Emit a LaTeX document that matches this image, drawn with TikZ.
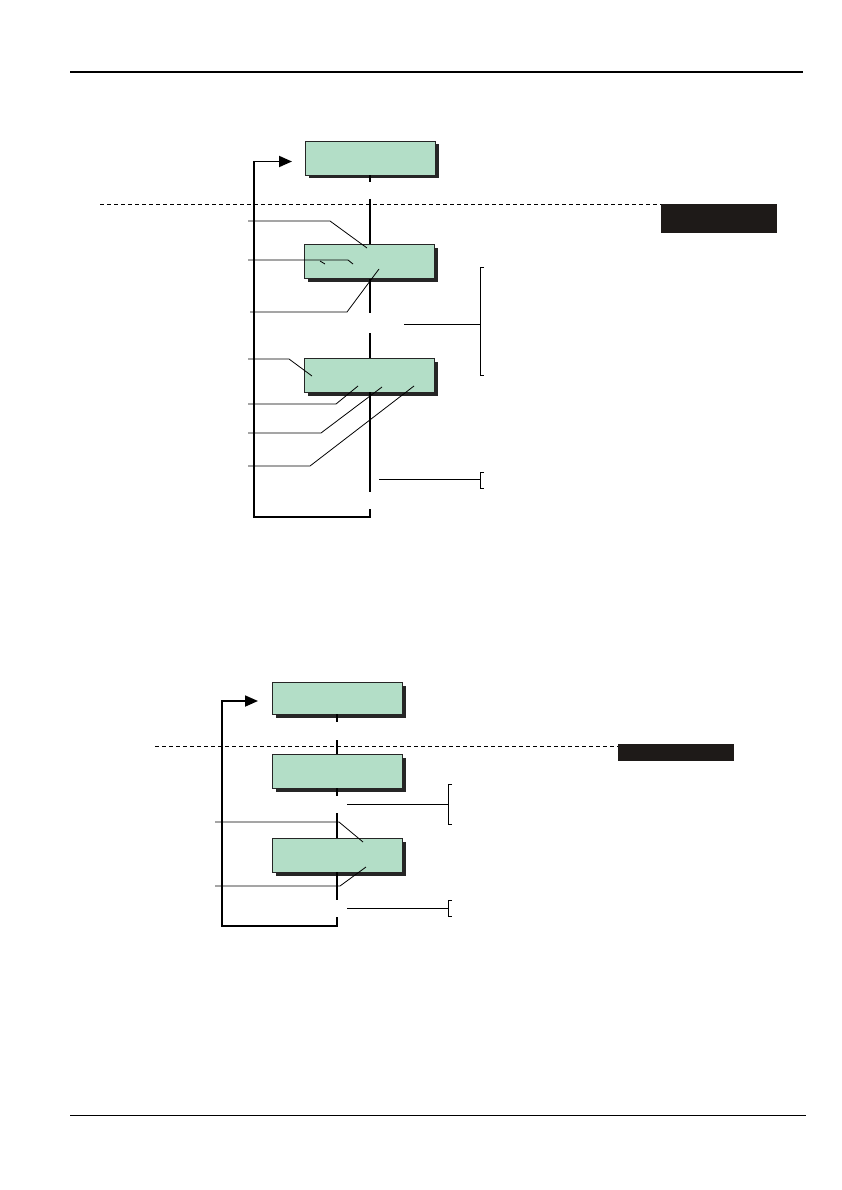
\documentclass[tikz,border=0pt]{standalone}
\usepackage{tikz}
\usetikzlibrary{ positioning, arrows.meta, shadows }
\usepackage{xcolor}
\definecolor{boxfill}{HTML}{B3DEC7}
\definecolor{tagfill}{HTML}{1E1A18}

\begin{document}
\begin{tikzpicture}[
  x=1pt, y=-1pt,
  stage/.style={draw=black!85, line width=0.9pt, fill=boxfill,
                minimum width=130pt, minimum height=34pt, inner sep=0pt,
                drop shadow={shadow xshift=3.5pt, shadow yshift=-3.5pt,
                             fill=black!85, opacity=1}},
  tag/.style={fill=tagfill, inner sep=0pt, anchor=north west},
  flow/.style={line width=1.8pt},
  lead/.style={line width=0.8pt},
  back/.style={line width=1.8pt, -{Triangle[length=13pt, width=11pt]}},
  cut/.style={line width=0.7pt, dash pattern=on 4pt off 3pt},
]
  \useasboundingbox (0,0) rectangle (842,1190);

  % page rules
  \draw[line width=2.4pt] (70,72) -- (803,72);
  \draw[line width=1pt] (70,1115) -- (806,1115);

  % ---- upper chart
  \node[stage] (top1) at (370,158) {};
  \node[stage] (mid1) at (369,261.5) {};
  \node[stage] (low1) at (369,375) {};
  \node[tag, minimum width=116pt, minimum height=29pt] (tag1) at (661,204) {};

  \draw[cut] (100,204) -- (tag1.north west);

  \coordinate (t1) at (370,182);
  \coordinate (t2) at (370,199);
  \coordinate (t3) at (370,313);
  \coordinate (t4) at (370,333);
  \coordinate (t5) at (370,492);
  \coordinate (t6) at (370,509);
  \draw[flow] (top1.south -| t1) -- (t1);
  \draw[flow] (t2) -- (mid1.north -| t2);
  \draw[flow] (mid1.south -| t3) -- (t3);
  \draw[flow] (t4) -- (low1.north -| t4);
  \draw[flow] (low1.south -| t5) -- (t5);

  \coordinate (ret1) at (254,517);
  \coordinate (in1) at (292,161.5);
  \draw[back] (t6) |- (ret1) |- (in1);

  % leaders
  \draw[lead] (248,221) -- (330,221) -- (367,248);
  \draw[lead] (248,260) -- (348,260) -- (353,264);
  \draw[lead] (320,261) -- (325,264);
  \draw[lead] (250,312) -- (347,312) -- (379,269);
  \draw[lead] (248,359) -- (289,359) -- (312,376);
  \draw[lead] (248,404) -- (336,404) -- (358,386);
  \draw[lead] (248,433) -- (321,433) -- (382,387);
  \draw[lead] (248,466) -- (310,466) -- (414,386);

  % brackets
  \coordinate (br1) at (480,324);
  \draw[lead] (404,324) -- (br1);
  \draw[lead] (484,267) -- (480,267) -- (480,375) -- (484,375);
  \coordinate (br2) at (480,479);
  \draw[lead] (379,479) -- (br2);
  \draw[lead] (484,472) -- (480,472) -- (480,488) -- (484,488);

  % ---- lower chart
  \node[stage, minimum height=32pt] (top2) at (337,698) {};
  \node[stage] (mid2) at (337,771) {};
  \node[stage] (low2) at (337,855) {};
  \node[tag, minimum width=116pt, minimum height=17pt] (tag2) at (618,744) {};

  \draw[cut] (155,746) -- (tag2.north west |- 0,746);

  \coordinate (u1) at (337,722);
  \coordinate (u2) at (337,740);
  \coordinate (u3) at (337,796);
  \coordinate (u4) at (337,813);
  \coordinate (u5) at (337,900);
  \coordinate (u6) at (337,917);
  \draw[flow] (top2.south -| u1) -- (u1);
  \draw[flow] (u2) -- (mid2.north -| u2);
  \draw[flow] (mid2.south -| u3) -- (u3);
  \draw[flow] (u4) -- (low2.north -| u4);
  \draw[flow] (low2.south -| u5) -- (u5);

  \coordinate (ret2) at (222,926);
  \coordinate (in2) at (258,701);
  \draw[back] (u6) |- (ret2) |- (in2);

  \draw[lead] (215,822) -- (339,822) -- (363,842);
  \draw[lead] (215,886) -- (340,886) -- (366,867);

  \coordinate (br3) at (448,804);
  \draw[lead] (347,804) -- (br3);
  \draw[lead] (452,784) -- (448,784) -- (448,824) -- (452,824);
  \coordinate (br4) at (448,908);
  \draw[lead] (347,908) -- (br4);
  \draw[lead] (452,900) -- (448,900) -- (448,916) -- (452,916);
\end{tikzpicture}
\end{document}
